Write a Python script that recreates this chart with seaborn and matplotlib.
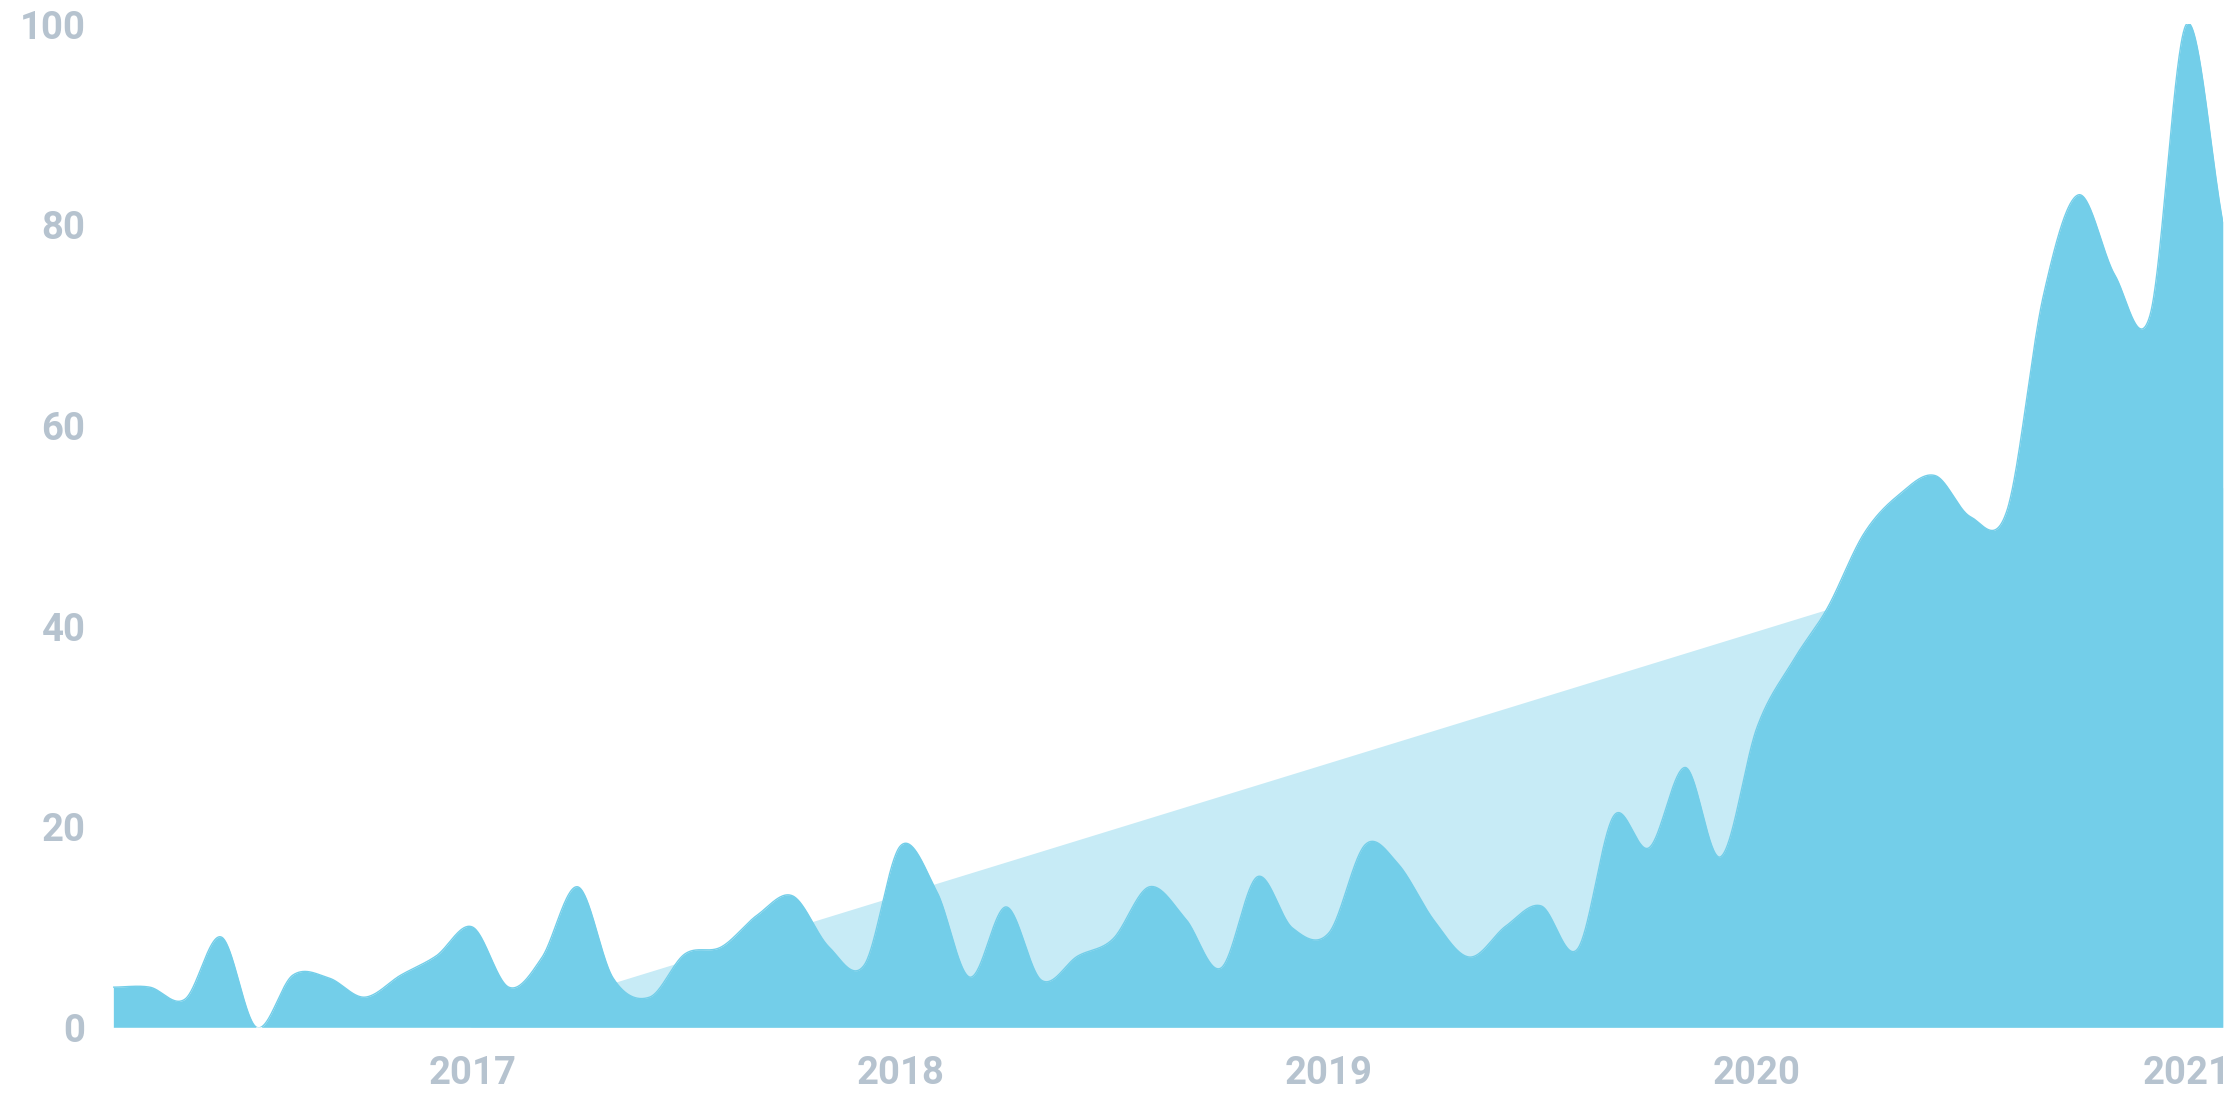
import numpy as np
import pandas as pd
import matplotlib
matplotlib.use("Agg")
import matplotlib.pyplot as plt
import seaborn as sns

# monthly interest values, Mar 2016 .. Feb 2021
months = pd.date_range("2016-03-01", "2021-02-01", freq="MS")
interest = [4.0, 4.0, 2.8, 9.0, 0.0, 5.2, 4.9, 3.0, 5.2, 7.1,
            10.0, 4.0, 6.9, 14.0, 4.9, 3.0, 7.3, 8.0, 11.2, 13.1,
            8.0, 6.2, 18.1, 13.5, 5.0, 12.0, 4.7, 7.1, 8.8, 14.0,
            10.8, 5.9, 15.0, 9.9, 9.4, 18.2, 16.3, 10.6, 7.0, 10.1,
            12.1, 7.8, 21.1, 17.9, 25.9, 17.0, 29.9, 36.6, 41.8, 49.2,
            53.1, 55.0, 50.9, 51.5, 72.9, 83.0, 75.0, 71.0, 100.0, 80.3]

# straight trend band behind the curve (values at first and last month)
trend_values = [-10.9, 53.8]

years = [2017, 2018, 2019, 2020, 2021]
y_ticks = [0, 20, 40, 60, 80, 100]

DARK = "#73cee9"
LIGHT = "#c7ebf6"
LABEL = "#b6c3cf"


def smooth_curve(x, y, per_seg=60):
    # catmull-rom spline through the monthly points, only for drawing
    x = np.asarray(x, float)
    y = np.asarray(y, float)
    m = np.zeros_like(y)
    m[1:-1] = (y[2:] - y[:-2]) / (x[2:] - x[:-2])
    m[0] = (y[1] - y[0]) / (x[1] - x[0])
    m[-1] = (y[-1] - y[-2]) / (x[-1] - x[-2])
    xs_all, ys_all = [], []
    for k in range(len(x) - 1):
        h = x[k + 1] - x[k]
        t = np.linspace(0, 1, per_seg, endpoint=False)
        h00 = 2 * t**3 - 3 * t**2 + 1
        h10 = t**3 - 2 * t**2 + t
        h01 = -2 * t**3 + 3 * t**2
        h11 = t**3 - t**2
        xs_all.append(x[k] + t * h)
        ys_all.append(h00 * y[k] + h10 * h * m[k] + h01 * y[k + 1] + h11 * h * m[k + 1])
    xs_all.append([x[-1]])
    ys_all.append([y[-1]])
    return np.concatenate(xs_all), np.concatenate(ys_all)


sns.set_theme(style="white")
plt.rcParams["font.family"] = ["Roboto", "DejaVu Sans"]

fig = plt.figure(figsize=(22.4, 11.2), dpi=100)
ax = fig.add_axes([0.0506, 0.0828, 0.9417, 0.8955])

xnum = matplotlib.dates.date2num(months)
xs, ys = smooth_curve(xnum, interest)
curve = pd.DataFrame({"date": matplotlib.dates.num2date(xs), "interest": ys})

trend_x = matplotlib.dates.date2num([months[0], months[-1]])
ax.fill_between(trend_x, 0, trend_values, color=LIGHT, lw=0, zorder=1)
ax.fill_between(xs, 0, ys, color=DARK, lw=0, zorder=2)
sns.lineplot(data=curve, x="date", y="interest", ax=ax, color=DARK, lw=1,
             zorder=3, sort=False, estimator=None)

ax.set_xlim(xnum[0], xnum[-1])
ax.set_ylim(0, 100)
ax.set_xticks(matplotlib.dates.date2num([pd.Timestamp(f"{y}-01-01") for y in years]))
ax.set_xticklabels([str(y) for y in years])
ax.set_yticks(y_ticks)
ax.set_yticklabels([str(v) for v in y_ticks])
ax.set_xlabel("")
ax.set_ylabel("")
for sp in ax.spines.values():
    sp.set_visible(False)
ax.tick_params(axis="both", length=0, labelsize=27.5, labelcolor=LABEL)
ax.tick_params(axis="x", pad=20)
ax.tick_params(axis="y", pad=20)
for lab in ax.get_xticklabels() + ax.get_yticklabels():
    lab.set_fontweight("bold")
ax.grid(False)

fig.savefig("out.png", dpi=100)
